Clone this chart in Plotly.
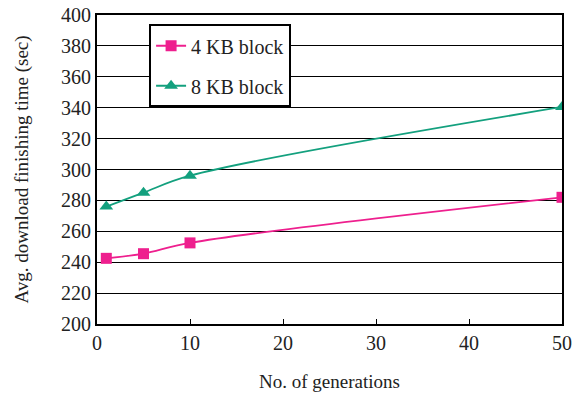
import plotly.graph_objects as go

generations = [1, 5, 10, 50]
kb4_times = [242.5, 245.5, 252.5, 282.0]
kb8_times = [276.0, 285.0, 296.0, 340.5]

font_family = "'Liberation Serif', 'DejaVu Serif', serif"

fig = go.Figure()
fig.add_trace(go.Scatter(
    x=generations, y=kb4_times, name="4 KB block", mode="lines+markers",
    line=dict(color="#ee1f8e", width=1.8, shape="spline"),
    marker=dict(symbol="square", size=11, color="#ee1f8e"),
    legendgroup="a"))
fig.add_trace(go.Scatter(
    x=generations, y=kb8_times, name="8 KB block", mode="lines+markers",
    line=dict(color="#13a07e", width=1.8, shape="spline"),
    marker=dict(symbol="triangle-up", size=12, color="#13a07e"),
    legendgroup="b"))

fig.update_layout(
    width=586, height=399,
    margin=dict(l=97, r=24, t=15, b=75),
    paper_bgcolor="white", plot_bgcolor="white",
    font=dict(family=font_family, size=20, color="#222"),
    legend=dict(x=0.112, y=0.97, xanchor="left", yanchor="top",
                bordercolor="black", borderwidth=2, bgcolor="white",
                font=dict(size=20), tracegroupgap=11,
                traceorder="grouped", entrywidth=162, entrywidthmode="pixels"),
    xaxis=dict(range=[0, 50], tickvals=[0, 10, 20, 30, 40, 50],
               showgrid=False, zeroline=False, showline=True, mirror=True,
               linecolor="black", linewidth=2, ticks="inside", ticklen=5,
               tickcolor="black", automargin=False,
               title=dict(text="No. of generations", standoff=22, font=dict(size=19))),
    yaxis=dict(range=[200, 400], tickvals=list(range(200, 401, 20)),
               showgrid=True, gridcolor="black", gridwidth=1.3, zeroline=False,
               showline=True, mirror=True, linecolor="black", linewidth=2,
               ticks="", automargin=False,
               title=dict(text="Avg. download finishing time (sec)", standoff=27, font=dict(size=19))),
)

fig.write_html("out.html")
